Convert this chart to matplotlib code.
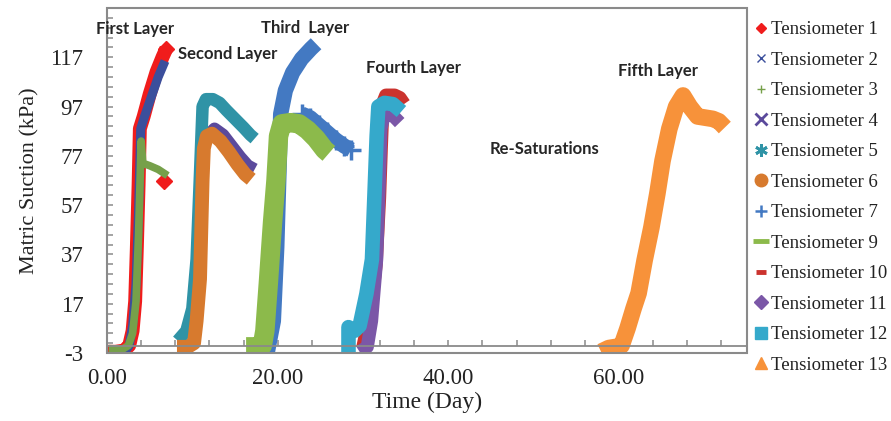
import numpy as np
import matplotlib
matplotlib.use("Agg")
import matplotlib.pyplot as plt
from matplotlib.lines import Line2D
from matplotlib.patches import Rectangle
from matplotlib.ticker import FixedLocator, FormatStrFormatter

plt.rcParams["axes.unicode_minus"] = False

nan = np.nan

# ---- tensiometer readings: time (day) and matric suction (kPa) ----
# first layer
t1_day = [0.0, 1.0, 2.0, 2.6, 3.0, 3.3, 3.5, 3.7, 3.85, 4.3, 5.0, 5.8, 6.5, 6.95, nan, 6.7]
t1_kpa = [-2.5, -2.5, -2.0, 0, 6, 18, 40, 65, 88, 93, 102, 111, 117, 120.5, nan, 67]
t2_day = [1.3, 2.0, 2.6, 3.0, 3.4, 3.7, 3.95, 4.4, 5.2, 6.0, 6.8]
t2_kpa = [-3.5, -3.0, 0, 8, 25, 55, 88, 93, 101, 109, 115.5]
t3_day = [0.2, 1.8, 2.5, 3.0, 3.4, 3.7, 3.9, 4.0, 4.2, 5.0, 6.0, 7.1]
t3_kpa = [-1.2, -1.5, 0, 5, 18, 45, 70, 83, 74, 73, 71.5, 69]
# second layer
t4_day = [11.8, 12.6, 13.6, 14.6, 15.6, 16.5, 17.3]
t4_kpa = [85, 88, 85.5, 81, 76.5, 73, 71.5]
t5_day = [8.3, 9.3, 10.0, 10.5, 10.9, 11.2, 11.6, 12.4, 13.2, 14.0, 15.0, 16.0, 16.8, 17.3]
t5_kpa = [2, 6, 15, 35, 70, 97, 100, 100, 98.5, 95.5, 92, 88.5, 85.5, 84]
t6_day = [8.2, 9.5, 10.2, 10.5, 10.9, 11.2, 11.35, 11.7, 12.3, 13.3, 14.3, 15.3, 16.2, 16.9]
t6_kpa = [-0.5, -0.5, 1, 10, 27, 67, 80, 85, 86, 83, 78.5, 73.5, 69.5, 67.5]
# third layer (arc, then the descending branch after the gap)
t7_day = [17.3, 18.8, 19.5, 19.9, 20.2, 20.35, 20.9, 21.75, 22.8, 23.9, 24.5,
          nan, 22.8, 23.8, 24.8, 25.8, 26.8, 27.8, 28.6]
t7_kpa = [-3, -2.5, 10, 40, 75, 94, 103.5, 110.8, 116.4, 120.5, 122.5,
          nan, 94, 92.5, 89.5, 86.5, 83.5, 81, 79.5]
t9_day = [16.3, 17.5, 18.2, 18.5, 18.9, 19.4, 19.8, 20.1, 20.5, 21.5, 22.5, 23.5, 24.5, 25.5, 26.0]
t9_kpa = [-0.5, -0.5, 0, 6, 25, 50, 67, 85, 90, 90.5, 90, 87.5, 84, 79.5, 78]
# fourth layer
t10_day = [30.0, 30.8, 31.5, 31.9, 32.1, 32.3, 32.7, 33.7, 34.3, 34.8]
t10_kpa = [-1, 12, 33, 60, 80, 98, 101.5, 101.5, 100.5, 98]
t11_day = [29.6, 30.5, 31.0, 31.6, 31.9, 32.1, 32.6, 33.6, 34.3]
t11_kpa = [-2.5, -0.5, 10, 35, 65, 88, 95, 93, 90.5]
t12_day = [28.3, 28.3, 29.0, 29.6, 30.4, 31.05, 31.35, 31.6, 31.8, 32.5, 33.5, 34.0, 34.5]
t12_kpa = [-3.5, 7.5, 6, 8, 21, 35, 62, 85, 97, 98.5, 98, 96.5, 95]
# fifth layer
t13_day = [57.9, 58.8, 59.7, 60.3, 61.0, 61.7, 62.3, 63.0, 63.8, 64.5, 65.1, 65.9,
           66.7, 67.5, 68.3, 69.2, 70.1, 71.0, 71.7, 72.4]
t13_kpa = [-2.5, -1, -0.5, 0, 7, 15, 21.3, 34.6, 48, 61.8, 75, 88,
           97, 101.5, 97, 93, 92.5, 92, 91, 88.5]

labels = ["Tensiometer 1", "Tensiometer 2", "Tensiometer 3", "Tensiometer 4",
          "Tensiometer 5", "Tensiometer 6", "Tensiometer 7", "Tensiometer 9",
          "Tensiometer 10", "Tensiometer 11", "Tensiometer 12", "Tensiometer 13"]

layer_names = ["First Layer", "Second Layer", "Third  Layer", "Fourth Layer",
               "Re-Saturations", "Fifth Layer"]
layer_day = [3.3, 14.2, 23.2, 35.9, 51.3, 64.6]
layer_kpa = [128.6, 118.5, 129.0, 112.8, 79.6, 111.6]

x_ticks = [0, 20, 40, 60]
y_ticks = list(range(-3, 118, 20))

# ---- styles ----
series = [
    # days, kPa, colour, line width, legend marker, marker size, marker edge width
    (t1_day, t1_kpa, "#f01c1c", 10.0, "D", 5.5, 1.0),
    (t2_day, t2_kpa, "#3b4f9c", 6.5, "x", 6.0, 1.0),
    (t3_day, t3_kpa, "#76a04a", 5.5, "+", 6.0, 1.0),
    (t4_day, t4_kpa, "#5b4a9c", 9.0, "x", 8.0, 2.0),
    (t5_day, t5_kpa, "#2f93a6", 9.0, (6, 2, 0), 9.0, 2.0),
    (t6_day, t6_kpa, "#d77a2e", 10.0, "o", 9.0, 1.0),
    (t7_day, t7_kpa, "#4379c2", 11.0, "+", 8.0, 1.8),
    (t9_day, t9_kpa, "#8cba4b", 14.0, "_", 11.0, 3.5),
    (t10_day, t10_kpa, "#cb332e", 10.0, "_", 7.0, 3.5),
    (t11_day, t11_kpa, "#7b57a7", 9.5, "D", 7.0, 1.0),
    (t12_day, t12_kpa, "#35a9cb", 10.5, "s", 8.5, 1.0),
    (t13_day, t13_kpa, "#f7923a", 12.0, "^", 9.0, 1.0),
]

serif = "Liberation Serif"
frame_grey = "#8a8a8a"

fig = plt.figure(figsize=(8.91, 4.21), dpi=100)
ax = fig.add_axes([107 / 891, 68 / 421, 640 / 891, 345 / 421])

for i, (d, k, c, lw, m, ms, mew) in enumerate(series):
    ax.plot(d, k, color=c, lw=lw, solid_capstyle="butt",
            solid_joinstyle="round", zorder=2 + i * 0.01)

# single readings drawn as markers
ax.plot([t1_day[13], t1_day[15]], [t1_kpa[13], t1_kpa[15]], "D",
        color="#f01c1c", ms=8, zorder=2)
ax.plot(t7_day[12:], t7_kpa[12:], "+", color="#4379c2", ms=15, mew=2.5,
        zorder=2.06)

# ---- axes ----
ax.set_xlim(0, 75)
ax.set_ylim(-3, 137)

ax.xaxis.set_major_locator(FixedLocator(x_ticks))
ax.xaxis.set_minor_locator(FixedLocator(np.arange(0, 76, 4)))
ax.xaxis.set_major_formatter(FormatStrFormatter("%.2f"))
ax.yaxis.set_major_locator(FixedLocator(y_ticks))
ax.yaxis.set_minor_locator(FixedLocator(np.arange(-3, 138, 4)))

ax.spines["bottom"].set_position(("data", 0))
for s in ax.spines.values():
    s.set_color(frame_grey)
    s.set_linewidth(1.3)
ax.add_patch(Rectangle((0, 0), 1, 1, transform=ax.transAxes, fill=False,
                       ec=frame_grey, lw=1.5, clip_on=False, zorder=5))

ax.tick_params(axis="both", which="both", direction="in", color=frame_grey,
               width=1.1, length=4)
ax.tick_params(axis="x", which="major", pad=16)
ax.tick_params(axis="y", which="major", pad=17)
for lab in ax.get_xticklabels() + ax.get_yticklabels():
    lab.set_fontfamily(serif)
    lab.set_fontsize(16.5)
    lab.set_color("#222222")

ax.set_xlabel("Time (Day)", fontfamily=serif, fontsize=17, color="#222222",
              labelpad=2)
ax.set_ylabel("Matric Suction (kPa)", fontfamily=serif, fontsize=16,
              color="#222222", labelpad=8)

for name, d, k in zip(layer_names, layer_day, layer_kpa):
    ax.text(d, k, name, fontfamily="Lato", fontweight="bold", fontsize=12,
            color="#262626", ha="center", va="center", zorder=6)

# ---- legend ----
handles = [Line2D([], [], ls="none", marker=m, color=c, markersize=ms,
                  markeredgewidth=mew)
           for (d, k, c, lw, m, ms, mew) in series]
leg = fig.legend(handles, labels, loc="upper left",
                 bbox_to_anchor=(753 / 891, 1 - 21 / 421),
                 frameon=False, prop={"family": serif, "size": 13.5},
                 handlelength=0.8, handletextpad=0.15, labelspacing=0.715,
                 borderpad=0, borderaxespad=0)
for t in leg.get_texts():
    t.set_color("#222222")

fig.savefig("out.png", dpi=100)
